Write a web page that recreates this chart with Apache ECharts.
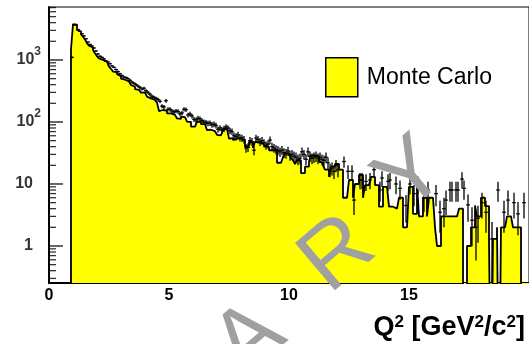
<!DOCTYPE html>
<html><head><meta charset="utf-8">
<script src="https://cdn.jsdelivr.net/npm/echarts@6/dist/echarts.min.js"></script>
<style>html,body{margin:0;padding:0;background:#fff;overflow:hidden}#c{width:529px;height:344px}</style>
</head><body><div id="c"></div>
<script>
// ---- data ----
const firstBinLow = 11 / 12;   // lower edge of first filled bin (GeV^2/c^2)
const binWidth = 1 / 12;

const mcCounts = [
  1490,
  3770, 3700, 3040, 2860, 2590, 2380, 2150, 1860, 1700, 1590, 1450, 1280,
  1150, 1060, 1000, 960, 940, 880, 780, 720, 650, 640, 590, 550,
  500, 480, 470, 450, 420, 395, 370, 340, 330, 320, 297, 300,
  290, 256, 240, 236, 226, 224, 205, 150, 156, 158, 152, 138,
  138, 140, 130, 128, 114, 112, 122, 120, 124, 101, 100, 84,
  84, 89, 101, 100, 92, 92, 90, 74, 75, 70, 71, 69,
  62, 61, 63, 74, 79, 78, 54, 55, 51, 54, 53, 54,
  51, 50, 40, 41, 48, 47, 38, 48, 47, 45, 45, 44,
  40, 40, 35, 35, 36, 35, 22, 22, 23, 27, 31, 31,
  31, 26, 24, 21, 24, 24, 15, 15, 19, 19, 23, 29,
  29, 30, 28, 23, 22, 20, 17, 17, 13, 19, 19, 21,
  21, 17, 17, 6, 6, 6, 11.6, 11.6, 6, 10, 10, 14,
  14, 6, 9.6, 9.6, 9.6, 13, 13, 9.6, 9.6, 4.3, 4.3, 9,
  9, 9, 4.3, 4.3, 4, 4, 4, 6, 6, 2, 2, 2,
  9, 9, 3.3, 3.3, 10, 3, 3, 6, 6, 3, 6, 6,
  6, 2, 1, 1, 3, 3, 3, 3, 3, 3, 3, 3,
  3, 4, 4, 0, 0, 1, 1, 2, 2, 4.5, 3, 3,
  6, 6, 4.4, 4.4, 1.3, 0, 1.3, 1.3, 2, 0, 2, 2,
  2, 3, 3, 3, 2, 2, 2, 2, 0, 0, 0, 0
];

const dataCounts = [
  1100,
  3700, 3650, 3100, 2900, 2650, 2450, 2200, 1950, 1780, 1680, 1560, 1400,
  1250, 1150, 1100, 1040, 960, 930, 870, 800, 760, 700, 650, 600,
  560, 530, 520, 500, 470, 440, 420, 400, 380, 360, 340, 350,
  320, 300, 280, 260, 250, 240, 230, 215, 180, 175, 220, 160,
  160, 150, 145, 150, 148, 135, 140, 160, 158, 130, 134, 125,
  110, 108, 115, 112, 105, 100, 98, 95, 96, 90, 92, 88,
  76, 80, 74, 78, 83, 80, 72, 70, 60, 58, 62, 56,
  55, 52, 38, 39, 50, 48, 35, 55, 52, 48, 50, 46,
  42, 44, 51, 40, 38, 36, 35, 33, 35, 32, 31, 34,
  29, 30, 28, 27, 25, 26, 33, 30, 25, 33, 28, 26,
  27, 28, 26, 27, 25, 24, 27, 22, 17, 18, 16, 20,
  17, 0, 0, 23, 0, 16, 0, 16, 5.5, 0, 0, 11.6,
  11.6, 0, 11, 0, 11.6, 0, 17, 0, 0, 8, 12.5, 0,
  0, 11, 11.6, 0, 0, 10, 0, 8.5, 0, 0, 4.5, 0,
  10, 0, 7, 0, 10, 0, 0, 6, 0, 8, 0, 0,
  0, 7, 0, 3.5, 0, 4, 5.5, 0, 8, 8, 0, 8,
  8, 0, 12, 8.5, 0, 4.6, 0, 2.6, 0, 2, 2.8, 0,
  5, 0, 3.5, 0, 0, 1.3, 0, 0, 8, 0, 0, 3.5,
  0, 5.5, 0, 0, 5, 0, 3.3, 0, 0, 5, 0, 0
];

const xTickLabels = ['0', '5', '10', '15'];
const yMajorTicks = [1, 10, 100, 1000];
const yMajorExponents = [0, 1, 2, 3];
const yMinorMultipliers = [2, 3, 4, 5, 6, 7, 8, 9];
const yMinorDecades = [0.1, 1, 10, 100, 1000];
const legendLabel = 'Monte Carlo';
const watermarkLetters = ['A', 'R', 'Y'];

// ---- build ----
const FONT = '"Liberation Sans", Arial, Helvetica, sans-serif';
const Y_MIN = 0.253, Y_MAX = 7150;
const FLOOR = 1e-3; // drawing floor for empty bins on the log axis

const stepPts = [[firstBinLow, FLOOR]];
mcCounts.forEach((v, i) => {
  const lo = firstBinLow + i * binWidth, hi = lo + binWidth;
  const y = v > 0 ? v : FLOOR;
  stepPts.push([lo, y], [hi, y]);
});
stepPts.push([firstBinLow + mcCounts.length * binWidth, FLOOR]);

const dataPts = [];
dataCounts.forEach((v, i) => {
  if (v > 0) dataPts.push([firstBinLow + (i + 0.5) * binWidth, v, Math.sqrt(v)]);
});

const minorTicks = [];
yMinorDecades.forEach(d => yMinorMultipliers.forEach(m => {
  const t = +(d * m).toPrecision(3);
  if (t > Y_MIN && t < Y_MAX) minorTicks.push([0, t]);
}));

const labelItems = yMajorTicks.map((v, i) => {
  const e = yMajorExponents[i];
  const sup = e >= 2;
  return {
    value: [0, v],
    label: {
      formatter: sup ? '{b|10}{s|' + e + '}' : '{b|' + (e === 0 ? '1' : '10') + '}',
      distance: sup ? 8 : 16
    }
  };
});

const chart = echarts.init(document.getElementById('c'), null, {renderer: 'canvas'});
chart.setOption({
  animation: false,
  backgroundColor: '#fff',
  grid: {left: 49, top: 7, right: -2, bottom: 61, show: true, borderColor: '#000', borderWidth: 1},
  legend: {
    left: 320, top: 52, itemWidth: 32, itemHeight: 39, selectedMode: false,
    data: [{name: legendLabel, icon: 'rect',
      itemStyle: {color: '#ffff00', borderColor: '#000', borderWidth: 1.5}}],
    textStyle: {fontSize: 23, color: '#000', fontFamily: FONT, padding: [0, 0, 0, 4]}
  },
  xAxis: {
    type: 'value', min: 0, max: 20, interval: 5,
    axisLine: {lineStyle: {color: '#000', width: 2}},
    axisTick: {inside: true, length: 8, lineStyle: {color: '#000', width: 1.5}},
    axisLabel: {
      color: '#000', fontSize: 16, fontWeight: 'bold', fontFamily: FONT, margin: 5,
      showMaxLabel: false,
      formatter: v => { const i = [0, 5, 10, 15].indexOf(v); return i >= 0 ? xTickLabels[i] : ''; }
    },
    splitLine: {show: false}
  },
  yAxis: {
    type: 'log', logBase: 10, min: Y_MIN, max: Y_MAX,
    axisLine: {show: true, lineStyle: {color: '#000', width: 2}},
    axisTick: {show: false}, axisLabel: {show: false}, splitLine: {show: false}, minorTick: {show: false}
  },
  series: [
    {
      name: legendLabel, type: 'line', data: stepPts, showSymbol: false, symbol: 'none',
      lineStyle: {color: '#000', width: 1.8}, itemStyle: {color: '#ffff00'},
      areaStyle: {color: '#ffff00', opacity: 1, origin: 'start'},
      clip: true, silent: true, z: 2
    },
    {
      name: 'Data', type: 'custom', data: dataPts, clip: true, silent: true, z: 3,
      renderItem: (params, api) => {
        const xc = api.value(0), v = api.value(1), e = api.value(2);
        const pL = api.coord([xc - binWidth / 2, v]);
        const pR = api.coord([xc + binWidth / 2, v]);
        const pT = api.coord([xc, v + e]);
        const pB = api.coord([xc, Math.max(v - e, FLOOR)]);
        const st = {stroke: '#000', lineWidth: 1.3};
        return {type: 'group', children: [
          {type: 'line', shape: {x1: pL[0] - 0.8, y1: pL[1], x2: pR[0] + 0.8, y2: pR[1]}, style: st},
          {type: 'line', shape: {x1: pT[0], y1: pT[1], x2: pB[0], y2: pB[1]}, style: st}
        ]};
      }
    },
    {
      type: 'scatter', data: yMajorTicks.map(v => [0, v]), symbol: 'rect',
      symbolSize: [14, 1.5], symbolOffset: [7, 0], itemStyle: {color: '#000'},
      clip: false, silent: true, z: 5
    },
    {
      type: 'scatter', data: minorTicks, symbol: 'rect',
      symbolSize: [7, 1.3], symbolOffset: [3.5, 0], itemStyle: {color: '#000'},
      clip: false, silent: true, z: 5
    },
    {
      type: 'scatter', data: labelItems, symbolSize: 0, clip: false, silent: true, z: 5,
      label: {
        show: true, position: 'left', color: '#000', fontFamily: FONT,
        rich: {
          b: {fontSize: 16, fontWeight: 'bold', fontFamily: FONT, color: '#000', lineHeight: 28},
          s: {fontSize: 12, fontWeight: 'bold', fontFamily: FONT, color: '#000', verticalAlign: 'top'}
        }
      }
    }
  ],
  graphic: [
    {
      type: 'text', right: 4, top: 314, z: 10,
      style: {
        text: '{a|Q}{s|2}{a| [GeV}{s|2}{a|/c}{s|2}{a|]}',
        fill: '#000',
        rich: {
          a: {fontSize: 27, fontWeight: 'bold', fontFamily: FONT, fill: '#000', lineHeight: 27},
          s: {fontSize: 17, fontWeight: 'bold', fontFamily: FONT, fill: '#000', verticalAlign: 'top'}
        }
      }
    },
    ...watermarkLetters.map((ch, i) => ({
      type: 'text', z: 20, silent: true,
      x: [250, 338, 412][i], y: [340, 255, 176][i], rotation: 0.7,
      style: {text: ch, fontSize: 90, fontFamily: FONT, fill: '#a0a0a0', align: 'center', verticalAlign: 'middle'}
    }))
  ]
});
</script></body></html>
